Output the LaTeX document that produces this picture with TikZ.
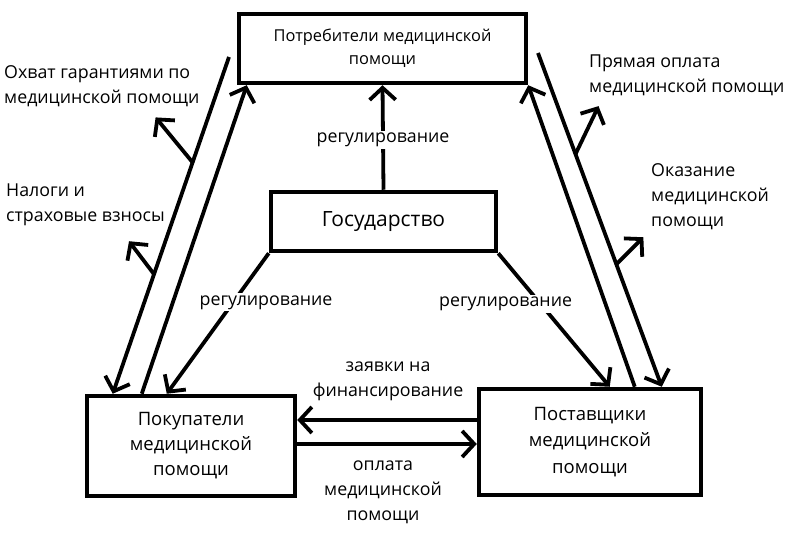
\documentclass[tikz,border=0pt]{standalone}
\usepackage{fontspec}
\setmainfont{Open Sans}
\usetikzlibrary{arrows.meta}

\begin{document}
\begin{tikzpicture}[x=1pt, y=-1pt, every node/.style={font=\fontsize{17.8}{25}\selectfont}, box/.style={draw, line width=4.5pt, align=center, inner sep=0pt}, lbl/.style={inner sep=0pt, align=left}, rg/.style={fill=white, inner sep=2pt}, arr/.style={-{Straight Barb[length=12pt, width=26pt]}, line width=3.8pt}]
\useasboundingbox (0,0) rectangle (803,545);
% four boxes: consumers on top, the state in the middle, buyers and suppliers below
\node[box, minimum width=287pt, minimum height=69pt, font=\fontsize{16.4}{23}\selectfont] (cons) at (382.5,48.5) {Потребители медицинской\\помощи};
\node[box, minimum width=225pt, minimum height=59pt, font=\fontsize{21}{24}\selectfont] (state) at (383.5,221.5) {Государство};
\node[box, minimum width=208pt, minimum height=100pt, font=\fontsize{18.5}{25}\selectfont] (buy) at (191,446) {Покупатели\\медицинской\\помощи};
\node[box, minimum width=222pt, minimum height=106pt, font=\fontsize{18.5}{26.5}\selectfont] (supp) at (590,442) {Поставщики\\медицинской\\помощи};
% free ends of the two outer lines
\coordinate (leftTop) at (229,57);
\coordinate (rightTop) at (538,53);
% regulation from the state
\draw[arr] (state.north) -- (cons.south) node[rg, pos=0.48] (regTop) {регулирование};
\draw[arr] (state.south west) -- node[rg, pos=0.35, xshift=33pt] (regLeft) {регулирование} ([xshift=82pt]buy.north west);
\draw[arr] (state.south east) -- node[rg, pos=0.38, xshift=-35pt] (regRight) {регулирование} ([xshift=133pt]supp.north west);
% left side: guarantees and taxes
\draw[arr] (leftTop) -- coordinate[pos=0.313] (cover) coordinate[pos=0.645] (tax) ([xshift=28pt]buy.north west);
\draw[arr] ([xshift=57pt]buy.north west) -- ([xshift=10pt]cons.south west);
\draw[arr] (cover) -- ++(-37,-45);
\draw[arr] (tax) -- ++(-25,-33);
% right side: direct payment and care
\draw[arr] (rightTop) -- coordinate[pos=0.303] (direct) coordinate[pos=0.633] (care) ([xshift=185pt]supp.north west);
\draw[arr] ([xshift=158pt]supp.north west) -- (cons.south east);
\draw[arr] (direct) -- ++(23,-48);
\draw[arr] (care) -- ++(27,-27);
% between buyers and suppliers
\draw[arr] ([yshift=22pt]supp.west) -- ([yshift=22pt]supp.west -| buy.east);
\draw[arr] ([yshift=2pt]buy.east) -- ([yshift=2pt]buy.east -| supp.west);
% labels
\node[lbl, anchor=west] (coverTxt) at (4,86.5) {Охват гарантиями по\\медицинской помощи};
\node[lbl, anchor=west] (taxTxt) at (6,204.5) {Налоги и\\страховые взносы};
\node[lbl, anchor=west] (directTxt) at (589,75.5) {Прямая оплата\\медицинской помощи};
\node[lbl, anchor=west] (careTxt) at (651,197) {Оказание\\медицинской\\помощи};
\node[lbl, align=center] (reqTxt) at (388,381) {заявки на\\финансирование};
\node[lbl, align=center] (payTxt) at (383,492) {оплата\\медицинской\\помощи};
\end{tikzpicture}
\end{document}
